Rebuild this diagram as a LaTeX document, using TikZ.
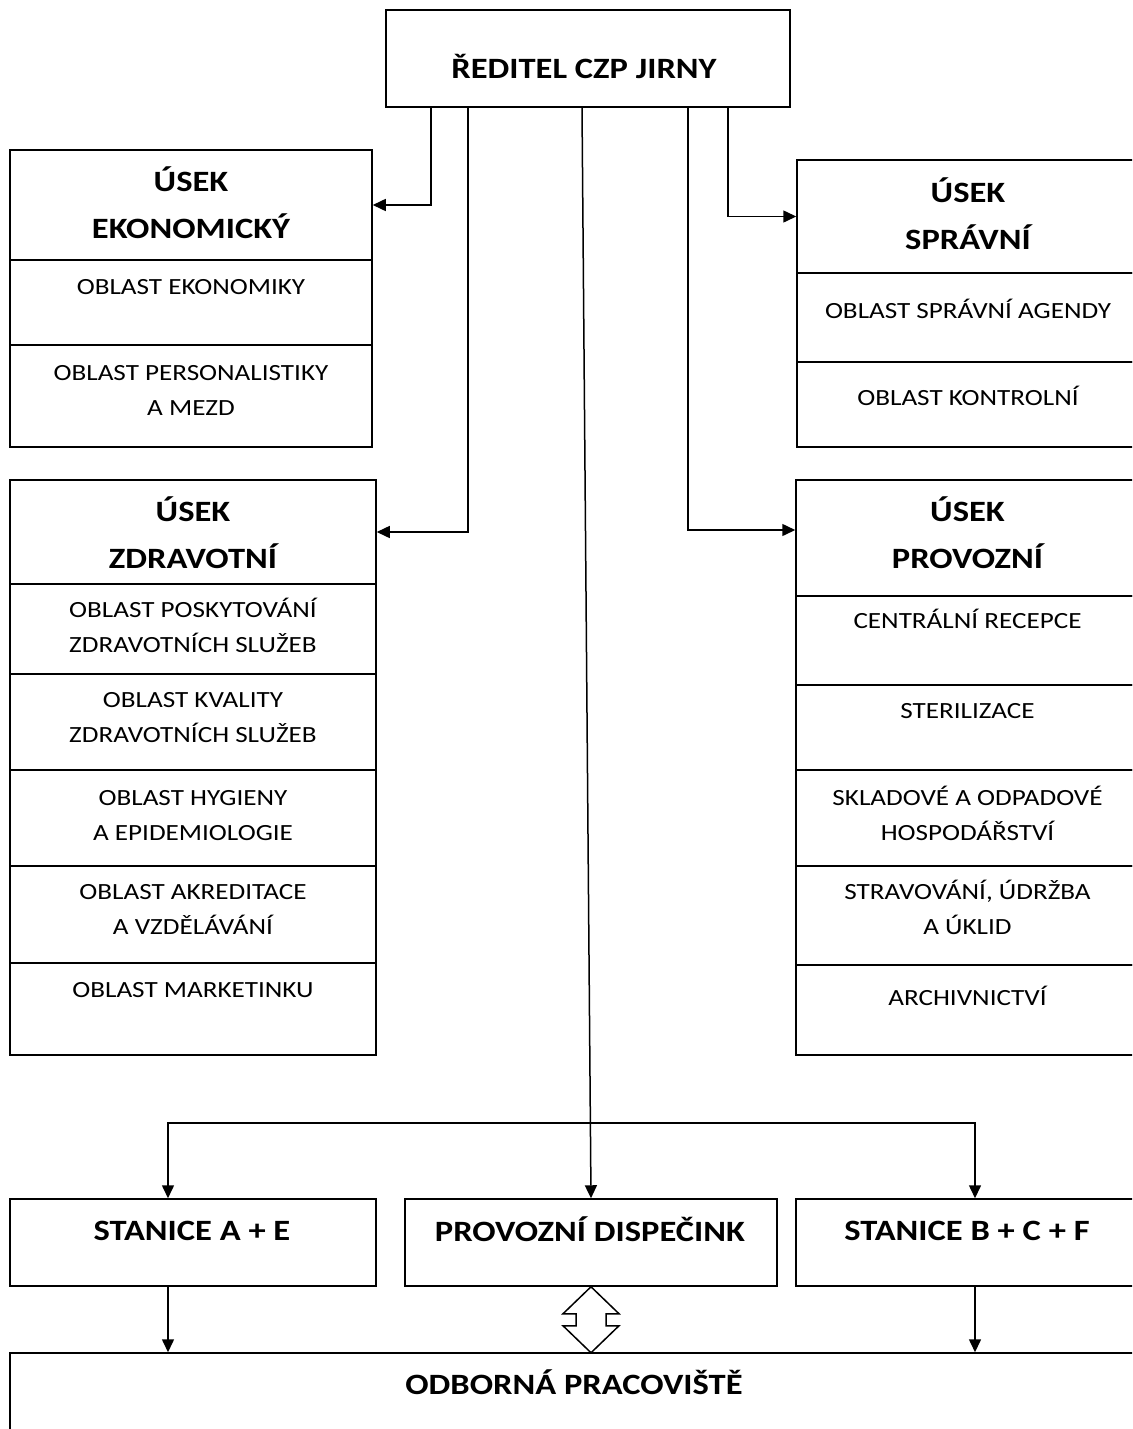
\documentclass[tikz,border=0pt]{standalone}
\usepackage{fontspec}
\setmainfont{Carlito}[FakeStretch=1.17]
\usepackage{tikz}
\usetikzlibrary{arrows.meta}

\newcommand{\txtfont}{\fontsize{23.2}{35.5}\selectfont}
\newcommand{\headfont}{\fontsize{29.5}{46.5}\selectfont\bfseries}

\tikzset{
  sect/.style n args={2}{draw, line width=1.5pt, inner sep=0pt,
    minimum width=#1, minimum height=#2},
  head/.style={font=\headfont, align=center, anchor=base, inner sep=0pt},
  item/.style={font=\txtfont, align=center, anchor=base, inner sep=0pt},
}

\begin{document}
\begin{tikzpicture}[x=1pt, y=-1pt]
\clip (0,0) rectangle (1132,1429);

% boxes
\begin{scope}
  \node[sect={404}{97}] (reditel) at (588,58.5) {};
  % usek ekonomicky
  \node[sect={362}{110}] (ekoH) at (191,205) {};
  \node[sect={362}{85}] (eko1) at (191,302.5) {};
  \node[sect={362}{102}] (eko2) at (191,396) {};
  % usek spravni
  \node[sect={342}{113}] (sprH) at (968,216.5) {};
  \node[sect={342}{89}] (spr1) at (968,317.5) {};
  \node[sect={342}{85}] (spr2) at (968,404.5) {};
  % usek zdravotni
  \node[sect={366}{104}] (zdrH) at (193,532) {};
  \node[sect={366}{90}] (zdr1) at (193,629) {};
  \node[sect={366}{96}] (zdr2) at (193,722) {};
  \node[sect={366}{96}] (zdr3) at (193,818) {};
  \node[sect={366}{97}] (zdr4) at (193,914.5) {};
  \node[sect={366}{92}] (zdr5) at (193,1009) {};
  % usek provozni
  \node[sect={343}{116}] (provH) at (967.5,538) {};
  \node[sect={343}{89}] (prov1) at (967.5,640.5) {};
  \node[sect={343}{85}] (prov2) at (967.5,727.5) {};
  \node[sect={343}{96}] (prov3) at (967.5,818) {};
  \node[sect={343}{99}] (prov4) at (967.5,915.5) {};
  \node[sect={343}{90}] (prov5) at (967.5,1010) {};
  % stanice
  \node[sect={366}{87}] (stA) at (193,1242.5) {};
  \node[sect={372}{87}] (disp) at (591,1242.5) {};
  \node[sect={343}{87}] (stB) at (967.5,1242.5) {};
  \node[sect={1129}{87}] (odb) at (574.5,1396.5) {};
\end{scope}

% texts (base = baseline of the last line)
\node[head] (reditelT) at (584,78) {ŘEDITEL CZP JIRNY};
\node[head] (ekoHT) at (191,238) {ÚSEK\\EKONOMICKÝ};
\node[item] (eko1T) at (191,294) {OBLAST EKONOMIKY};
\node[item] (eko2T) at (191,415.5) {OBLAST PERSONALISTIKY\\A MEZD};
\node[head] (sprHT) at (968,249) {ÚSEK\\SPRÁVNÍ};
\node[item] (spr1T) at (968,318) {OBLAST SPRÁVNÍ AGENDY};
\node[item] (spr2T) at (968,405) {OBLAST KONTROLNÍ};
\node[head] (zdrHT) at (193,568) {ÚSEK\\ZDRAVOTNÍ};
\node[item] (zdr1T) at (193,652.5) {OBLAST POSKYTOVÁNÍ\\ZDRAVOTNÍCH SLUŽEB};
\node[item] (zdr2T) at (193,742.5) {OBLAST KVALITY\\ZDRAVOTNÍCH SLUŽEB};
\node[item] (zdr3T) at (193,840.5) {OBLAST HYGIENY\\A EPIDEMIOLOGIE};
\node[item] (zdr4T) at (193,934.5) {OBLAST AKREDITACE\\A VZDĚLÁVÁNÍ};
\node[item] (zdr5T) at (193,997) {OBLAST MARKETINKU};
\node[head] (provHT) at (967.5,568) {ÚSEK\\PROVOZNÍ};
\node[item] (prov1T) at (967.5,628) {CENTRÁLNÍ RECEPCE};
\node[item] (prov2T) at (967.5,718) {STERILIZACE};
\node[item] (prov3T) at (967.5,840.5) {SKLADOVÉ A ODPADOVÉ\\HOSPODÁŘSTVÍ};
\node[item] (prov4T) at (967.5,934.5) {STRAVOVÁNÍ, ÚDRŽBA\\A ÚKLID};
\node[item] (prov5T) at (967.5,1005) {ARCHIVNICTVÍ};
\node[head] (stAT) at (192,1240) {STANICE A + E};
\node[head] (dispT) at (590,1241) {PROVOZNÍ DISPEČINK};
\node[head] (stBT) at (967,1240) {STANICE B + C + F};
\node[head] (odbT) at (574,1394) {ODBORNÁ PRACOVIŠTĚ};

% connectors
\begin{scope}[>={Triangle[length=13pt,width=12pt]}, line width=1.5pt]
  \draw[->] ([xshift=-157pt]reditel.south) |- (ekoH.east);
  \draw[->] ([xshift=-120pt]reditel.south) |- (zdrH.east);
  \draw[->] ([xshift=-6pt]reditel.south) -- (disp.north);
  \draw[->] ([xshift=100pt]reditel.south) |- ([yshift=8pt]provH.west);
  \draw[->] ([xshift=140pt]reditel.south) |- (sprH.west);

  \coordinate (barL) at (168,1123);
  \coordinate (barR) at (975,1123);
  \draw[<->] (barL |- stA.north) -- (barL) -- (barR) -- (barR |- stB.north);
  \draw[->] (barL |- stA.south) -- (barL |- odb.north);
  \draw[->] (barR |- stB.south) -- (barR |- odb.north);

  % double arrow
  \draw[fill=white, line join=miter] (disp.south) -- ++(28,27) -- ++(-13,0)
    -- ++(0,12) -- ++(13,0) -- ++(-28,27) -- ++(-28,-27) -- ++(13,0)
    -- ++(0,-12) -- ++(-13,0) -- cycle;
\end{scope}
\end{tikzpicture}
\end{document}
